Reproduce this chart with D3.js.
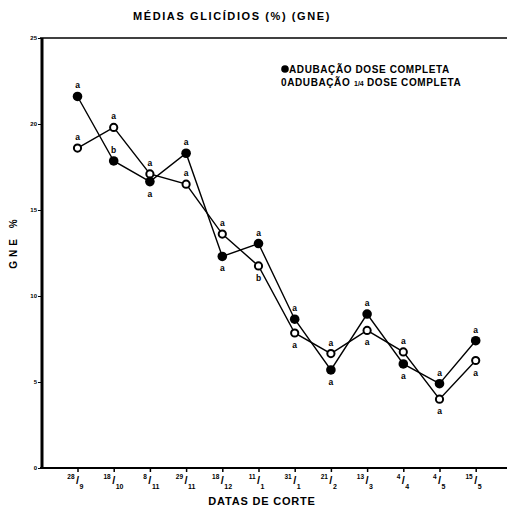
<!DOCTYPE html>
<html>
<head>
<meta charset="utf-8">
<script src="https://cdnjs.cloudflare.com/ajax/libs/d3/7.8.5/d3.min.js"></script>
<style>
body { margin:0; background:#fff; }
svg text { font-family: "Liberation Sans", Arial, sans-serif; font-weight: bold; fill:#000; }
.axis path, .axis line { stroke:#000; }
</style>
</head>
<body>
<div id="canvas"></div>
<script>
// dates of cut: day / month
var days   = ['28','18','8','29','18','11','31','21','13','4','4','15'];
var months = ['9','10','11','11','12','1','1','2','3','4','5','5'];
var cats = days.map(function(d,i){ return d + '/' + months[i]; });

// GNE % - full dose (filled) and 1/4 dose (open)
var fullDose    = [21.6, 17.85, 16.65, 18.3, 12.3, 13.05, 8.65, 5.7, 8.95, 6.05, 4.9, 7.4];
var quarterDose = [18.6, 19.8, 17.1, 16.5, 13.6, 11.75, 7.85, 6.65, 8.0, 6.75, 4.0, 6.25];

// significance letters and where they sit
var fullLetters    = ['a','b','a','a','a','a','a','a','a','a','a','a'];
var fullSide       = ['up','up','down','up','down','up','up','down','up','down','up','up'];
var quarterLetters = ['a','a','a','a','a','b','a','a','a','a','a','a'];
var quarterSide    = ['up','up','up','up','up','down','down','up','down','up','down','down'];

var yTicks = [0,5,10,15,20,25];

var W = 507, H = 512;
var svg = d3.select('#canvas').append('svg')
    .attr('width', W).attr('height', H);

var x = d3.scalePoint().domain(cats).range([77.5, 475.7]);
var y = d3.scaleLinear().domain([0,25]).range([468, 38]);

// title
svg.append('text')
    .attr('x', 232).attr('y', 20)
    .attr('text-anchor','middle')
    .style('font-size','11px')
    .style('letter-spacing','1.6px')
    .text('MÉDIAS GLICÍDIOS (%) (GNE)');

// y axis
var axisY = d3.axisLeft(y).tickValues(yTicks).tickSize(3).tickPadding(1);
var gy = svg.append('g').attr('class','axis')
    .attr('transform','translate(41,0)')
    .call(axisY);
gy.select('.domain').remove();
gy.selectAll('text').style('font-size','6px');

svg.append('line')
    .attr('x1',42).attr('x2',42)
    .attr('y1',y(25)).attr('y2',y(0)+1)
    .attr('stroke','#000').attr('stroke-width',3);

// top frame line
svg.append('line')
    .attr('x1',40).attr('x2',W)
    .attr('y1',y(25)).attr('y2',y(25))
    .attr('stroke','#000').attr('stroke-width',1.5);

// x axis
var axisX = d3.axisBottom(x).tickSize(4).tickFormat('');
var gx = svg.append('g').attr('class','axis')
    .attr('transform','translate(0,' + y(0) + ')')
    .call(axisX);
gx.select('.domain').remove();
gx.selectAll('line').attr('stroke-width',1.5);

svg.append('line')
    .attr('x1',40).attr('x2',W)
    .attr('y1',y(0)).attr('y2',y(0))
    .attr('stroke','#000').attr('stroke-width',2);

// fraction style date labels
var lab = svg.selectAll('.datelab').data(cats).enter().append('g')
    .attr('class','datelab')
    .attr('transform', function(d){ return 'translate(' + x(d) + ',' + y(0) + ')'; });
lab.append('text')
    .attr('x',-3).attr('y',11)
    .attr('text-anchor','end')
    .style('font-size','6.5px')
    .text(function(d,i){ return days[i]; });
lab.append('text')
    .attr('x',0).attr('y',16)
    .attr('text-anchor','middle')
    .style('font-size','11px')
    .text('/');
lab.append('text')
    .attr('x',2).attr('y',21)
    .attr('text-anchor','start')
    .style('font-size','7px')
    .text(function(d,i){ return months[i]; });

// axis titles
svg.append('text')
    .attr('x', 262).attr('y', 505)
    .attr('text-anchor','middle')
    .style('font-size','11px')
    .style('letter-spacing','0.8px')
    .text('DATAS DE CORTE');

svg.append('text')
    .attr('transform','translate(17,242) rotate(-90)')
    .attr('text-anchor','middle')
    .style('font-size','10px')
    .style('letter-spacing','4px')
    .text('GNE %');

// lines
var line = d3.line()
    .x(function(d,i){ return x(cats[i]); })
    .y(function(d){ return y(d); });

svg.append('path').datum(quarterDose)
    .attr('d', line).attr('fill','none')
    .attr('stroke','#000').attr('stroke-width',1.4);
svg.append('path').datum(fullDose)
    .attr('d', line).attr('fill','none')
    .attr('stroke','#000').attr('stroke-width',1.4);

// markers
svg.selectAll('.open').data(quarterDose).enter().append('circle')
    .attr('class','open')
    .attr('cx', function(d,i){ return x(cats[i]); })
    .attr('cy', function(d){ return y(d); })
    .attr('r', 3.6)
    .attr('fill','#fff').attr('stroke','#000').attr('stroke-width',2);

svg.selectAll('.full').data(fullDose).enter().append('circle')
    .attr('class','full')
    .attr('cx', function(d,i){ return x(cats[i]); })
    .attr('cy', function(d){ return y(d); })
    .attr('r', 4.8)
    .attr('fill','#000');

// letters
function letters(vals, lets, side){
  svg.selectAll(null).data(vals).enter().append('text')
    .attr('x', function(d,i){ return x(cats[i]); })
    .attr('y', function(d,i){ return y(d) + (side[i] === 'up' ? -8 : 15); })
    .attr('text-anchor','middle')
    .style('font-size','8.5px')
    .text(function(d,i){ return lets[i]; });
}
letters(fullDose, fullLetters, fullSide);
letters(quarterDose, quarterLetters, quarterSide);

// legend
svg.append('circle').attr('cx',285).attr('cy',69).attr('r',3.8).attr('fill','#000');
svg.append('text').attr('x',289).attr('y',72.5)
    .style('font-size','10px')
    .style('letter-spacing','0.6px')
    .text('ADUBAÇÃO DOSE COMPLETA');
svg.append('text').attr('x',281).attr('y',86)
    .style('font-size','10px')
    .style('letter-spacing','0.6px')
    .text('0ADUBAÇÃO');
svg.append('text').attr('x',354).attr('y',86)
    .style('font-size','7px')
    .text('1/4');
svg.append('text').attr('x',367).attr('y',86)
    .style('font-size','10px')
    .style('letter-spacing','0.6px')
    .text('DOSE COMPLETA');
</script>
</body>
</html>
